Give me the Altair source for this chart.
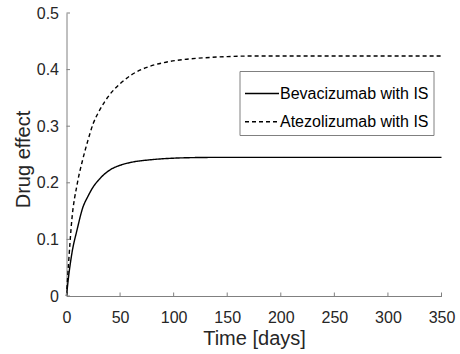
import altair as alt
import pandas as pd

# Values
t_bev = [0, 2, 5, 10, 15, 20, 25, 30, 40, 50, 60, 80, 100, 130, 150, 200, 250, 300, 350]
y_bev = [0, 0.035, 0.075, 0.118, 0.155, 0.176, 0.193, 0.205, 0.222, 0.231, 0.236, 0.241, 0.2435, 0.2448, 0.245, 0.245, 0.245, 0.245, 0.245]

t_atz = [0, 2, 5, 10, 15, 20, 25, 30, 40, 50, 60, 75, 90, 110, 130, 150, 175, 200, 250, 300, 350]
y_atz = [0, 0.06, 0.135, 0.198, 0.24, 0.275, 0.305, 0.325, 0.355, 0.375, 0.39, 0.404, 0.412, 0.418, 0.421, 0.423, 0.424, 0.424, 0.424, 0.424, 0.424]

series_names = ["Bevacizumab with IS", "Atezolizumab with IS"]
x_ticks = [0, 50, 100, 150, 200, 250, 300, 350]
y_ticks = [0, 0.1, 0.2, 0.3, 0.4, 0.5]

df = pd.concat([
    pd.DataFrame({"t": t_bev, "v": y_bev, "series": series_names[0]}),
    pd.DataFrame({"t": t_atz, "v": y_atz, "series": series_names[1]}),
])

FONT = "Liberation Sans"
AXIS_GRAY = "#808080"
TEXT = "#262626"

xscale = alt.Scale(domain=[0, 350], nice=False, zero=False)
yscale = alt.Scale(domain=[0, 0.5], nice=False)

lines = alt.Chart(df).mark_line(color="black", strokeWidth=1.4, interpolate="monotone").encode(
    x=alt.X("t:Q", scale=xscale, title="Time [days]",
            axis=alt.Axis(values=x_ticks, tickSize=0, labelPadding=13, labelFontSize=16,
                          labelFlush=False, labelOverlap=False,
                          titleFontSize=20, titlePadding=3, grid=False, domainColor=AXIS_GRAY,
                          labelColor=TEXT, titleColor=TEXT, labelFont=FONT, titleFont=FONT,
                          titleFontWeight="normal")),
    y=alt.Y("v:Q", scale=yscale, title="Drug effect",
            axis=alt.Axis(values=y_ticks, format=".1~f", tickSize=0, labelPadding=8, labelFontSize=16,
                          labelFlush=False, labelOverlap=False, titleY=146,
                          titleFontSize=20, titlePadding=3, grid=False, domainColor=AXIS_GRAY,
                          labelColor=TEXT, titleColor=TEXT, labelFont=FONT, titleFont=FONT,
                          titleFontWeight="normal")),
    strokeDash=alt.StrokeDash("series:N",
                              scale=alt.Scale(domain=series_names, range=[[1, 0], [4, 3]]),
                              legend=alt.Legend(orient="none", legendX=173, legendY=58, title=None,
                                                strokeColor=AXIS_GRAY, fillColor="white", padding=4.5,
                                                symbolType="stroke", symbolSize=1156,
                                                symbolStrokeWidth=1.4, symbolStrokeColor="black",
                                                labelFontSize=16, labelFont=FONT, labelColor="black",
                                                labelOffset=0, rowPadding=2.3)),
)

xt = alt.Chart(pd.DataFrame({"t": x_ticks})).mark_rule(color=AXIS_GRAY, strokeWidth=1).encode(
    x=alt.X("t:Q", scale=xscale), y=alt.value(283), y2=alt.value(279.5))
yt = alt.Chart(pd.DataFrame({"v": y_ticks})).mark_rule(color=AXIS_GRAY, strokeWidth=1).encode(
    y=alt.Y("v:Q", scale=yscale), x=alt.value(0), x2=alt.value(3.5))

chart = alt.layer(lines, xt, yt).properties(
    width=375, height=283,
    autosize=alt.AutoSizeParams(type="none"),
    padding={"left": 66.5, "top": 13, "right": 18.5, "bottom": 58},
    background="white",
).configure_view(stroke=None)

chart.save("out.html", embed_options={"renderer": "svg", "actions": False})
